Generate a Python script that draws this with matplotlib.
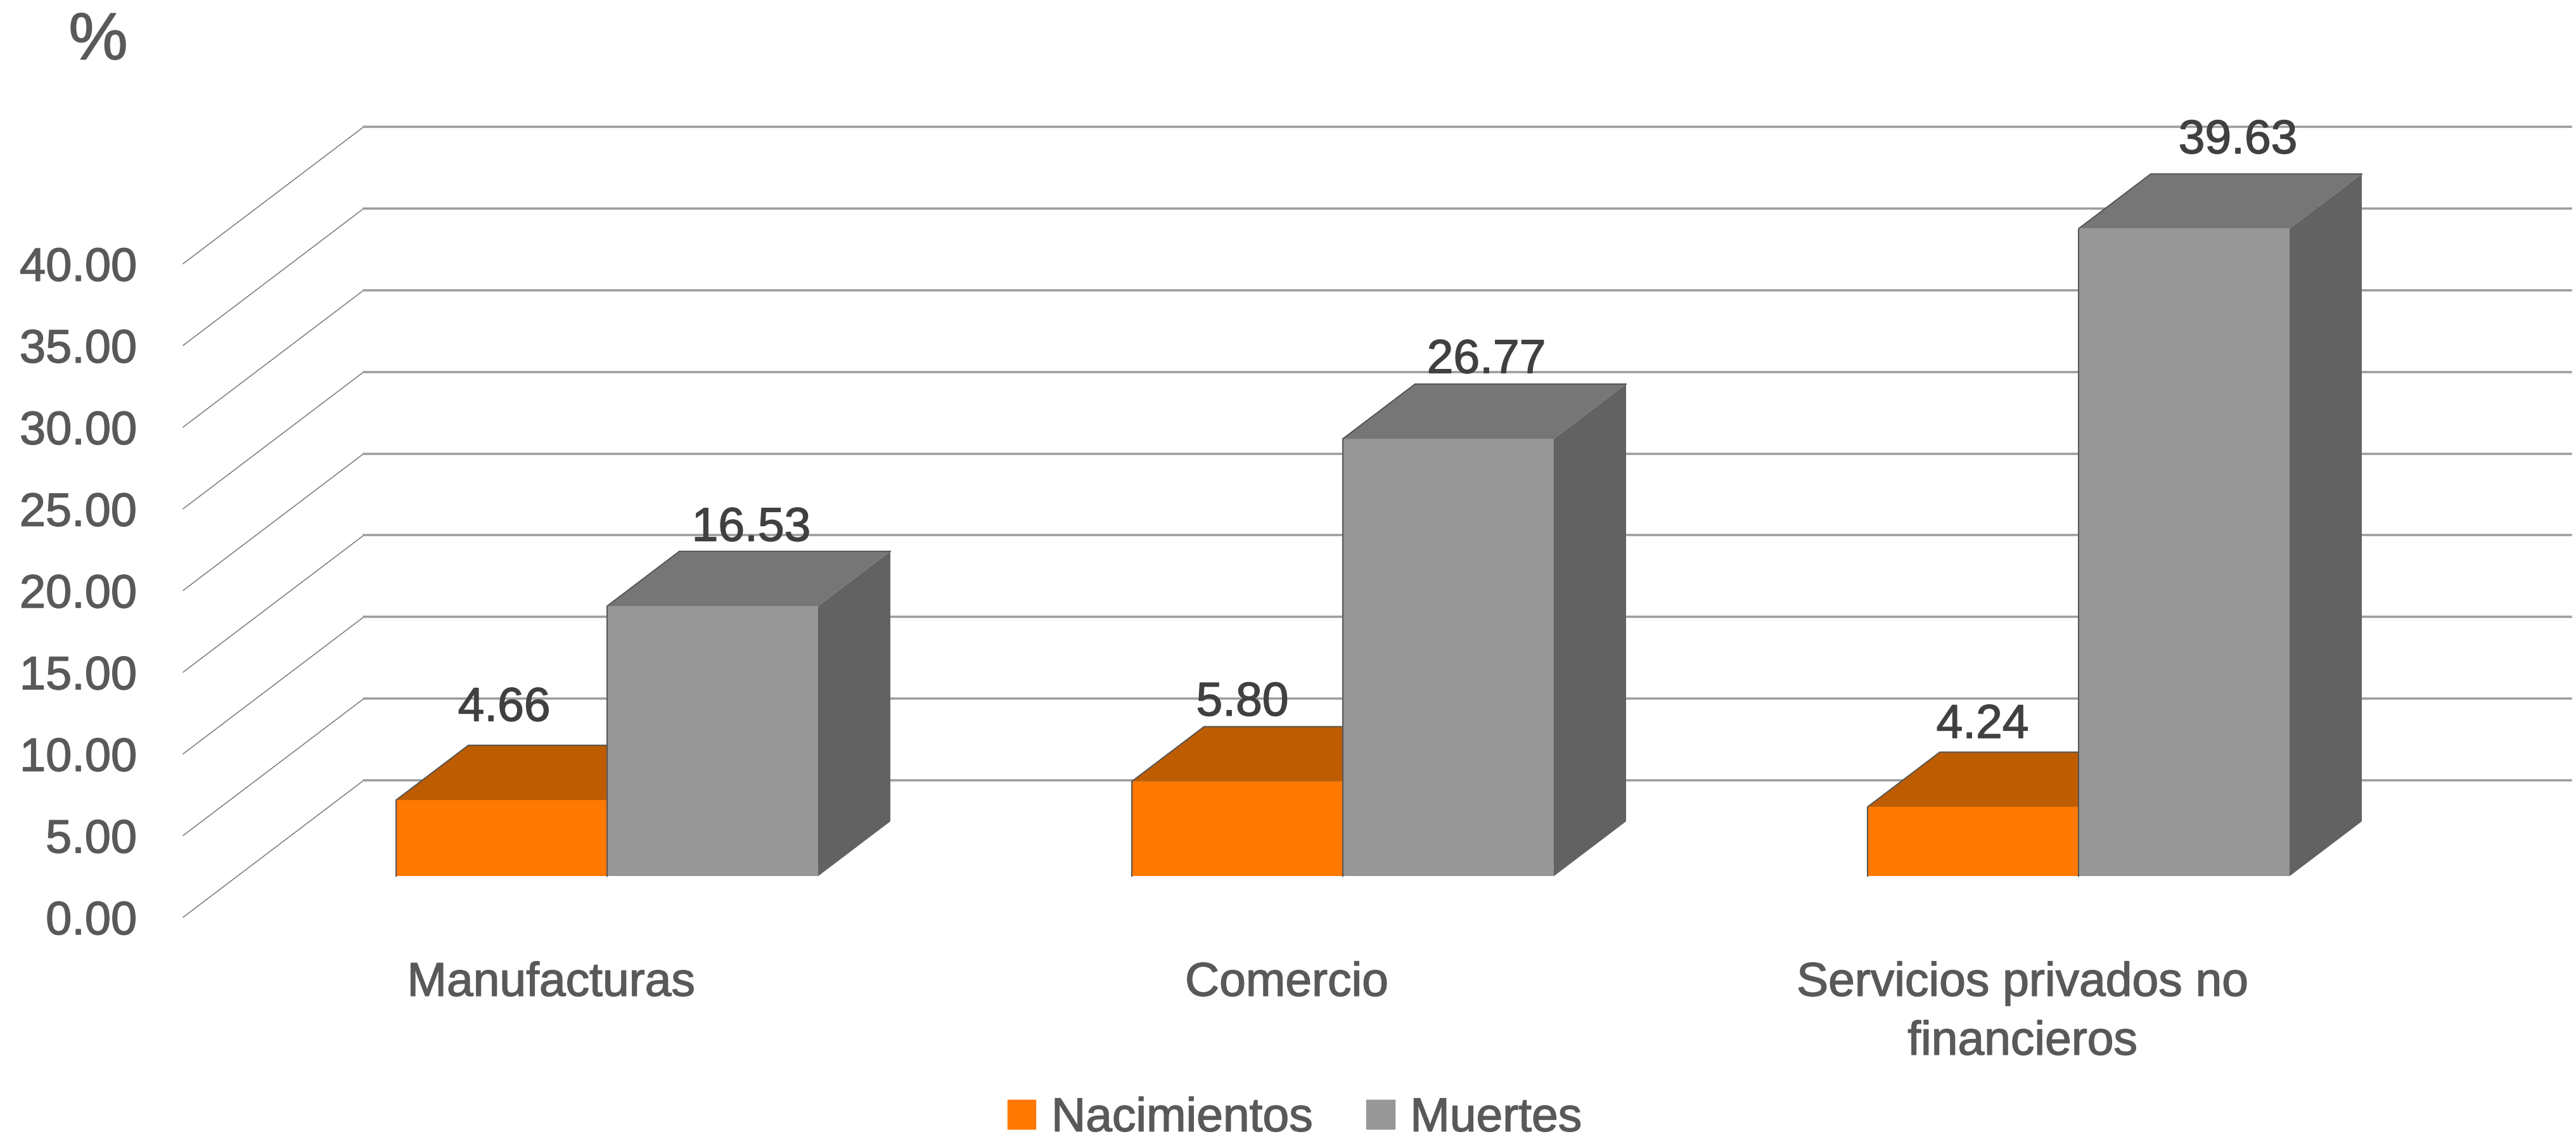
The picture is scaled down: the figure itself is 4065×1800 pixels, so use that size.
import matplotlib
matplotlib.use('Agg')
import matplotlib.pyplot as plt
import matplotlib.patheffects as pe
from matplotlib.patches import Patch

plt.rcParams['font.family'] = ['Liberation Sans', 'DejaVu Sans']

categories = ['Manufacturas', 'Comercio', 'Servicios privados no\nfinancieros']
nacimientos = [4.66, 5.80, 4.24]
muertes = [16.53, 26.77, 39.63]
yticks = [0, 5, 10, 15, 20, 25, 30, 35, 40]

W, H = 4065, 1800
DPI = 100
px = 72. / DPI

# fake 3d: shift of the back wall, in data units
DX = 285 / 1161.
DY = 216 / 25.78
# bars stand between these fractions of the depth
D0, D1 = 0.3, 0.7
BAR_W = 0.2868
GAP = 0.2158

fig = plt.figure(figsize=(W / DPI, H / DPI), dpi=DPI)
ax = fig.add_axes([289. / W, (H - 1447.) / H, 3483. / W, 1031. / H])
ax.set_xlim(0, 3)
ax.set_ylim(0, 40)
for s in ax.spines.values():
    s.set_visible(False)

# walls
for v in yticks:
    ax.plot([0, DX], [v, v + DY], color='#757575', lw=1.5 * px, clip_on=False, zorder=1)
    ax.plot([DX, 3 + DX], [v + DY, v + DY], color='#9c9c9c', lw=3.5 * px, clip_on=False, zorder=1)


def box(x0, value, front, top, side, z):
    base = D0 * DY
    x = x0 + D0 * DX
    ax.bar(x, value, BAR_W, bottom=base, align='edge', color=front, clip_on=False, zorder=z)
    yf = base + value
    dx = (D1 - D0) * DX
    dy = (D1 - D0) * DY
    ax.fill([x, x + dx, x + BAR_W + dx, x + BAR_W], [yf, yf + dy, yf + dy, yf],
            color=top, lw=0, clip_on=False, zorder=z)
    ax.fill([x + BAR_W, x + BAR_W + dx, x + BAR_W + dx, x + BAR_W],
            [base, base + dy, yf + dy, yf], color=side, lw=0, clip_on=False, zorder=z)
    # thin dark outline on the left and back
    ax.plot([x, x, x + dx, x + BAR_W + dx], [base, yf, yf + dy, yf + dy],
            color='#555555', lw=2 * px, clip_on=False, zorder=z + 0.1)


for i in range(3):
    box(i + GAP, nacimientos[i], '#ff7800', '#bd5c00', '#bd5c00', 2)
    box(i + GAP + BAR_W, muertes[i], '#979797', '#767676', '#626262', 3)


def thicker(color):
    return [pe.withStroke(linewidth=1.5 * px, foreground=color)]


# value labels, moved by hand as in the original (pixels from the top centre of the box)
nudge_nac = [(-53, 58), (-49, 37), (-42, 42)]
nudge_mue = [(4, 36), (3, 37), (28, 52)]
for i in range(3):
    for vals, off, nudge in ((nacimientos, 0, nudge_nac), (muertes, BAR_W, nudge_mue)):
        xc = i + GAP + off + BAR_W / 2 + (D0 + D1) / 2 * DX
        yt = vals[i] + D1 * DY
        ax.annotate('%.2f' % vals[i], xy=(xc, yt), annotation_clip=False,
                    xytext=(nudge[i][0] * px, nudge[i][1] * px), textcoords='offset points',
                    ha='center', va='center', fontsize=75 * px, color='#404040', zorder=6,
                    path_effects=thicker('#404040'))

ax.set_yticks(yticks)
ax.set_yticklabels(['%.2f' % v for v in yticks], fontsize=74 * px, color='#595959',
                   path_effects=thicker('#595959'))
ax.set_xticks([0.5, 1.5, 2.5])
ax.set_xticklabels(categories, fontsize=75 * px, color='#595959', linespacing=1.44,
                   path_effects=thicker('#595959'))
ax.tick_params(axis='y', length=0, pad=73 * px)
ax.tick_params(axis='x', length=0, pad=70 * px)

fig.text(155. / W, 1 - 66. / H, '%', fontsize=105 * px, color='#595959', ha='center', va='center',
         path_effects=thicker('#595959'))

handles = [Patch(color='#ff7800', label='Nacimientos'), Patch(color='#979797', label='Muertes')]
leg = fig.legend(handles=handles, loc='center', bbox_to_anchor=(2043. / W, 1 - 1765. / H), ncol=2,
                 frameon=False, fontsize=75 * px, labelcolor='#595959', handlelength=0.59,
                 handleheight=0.56, handletextpad=0.33, columnspacing=1.13, borderpad=0)
for t in leg.get_texts():
    t.set_path_effects(thicker('#595959'))

plt.savefig('out.png', dpi=DPI)
